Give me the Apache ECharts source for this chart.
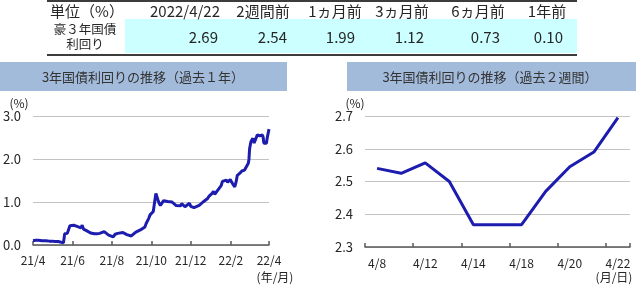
<!DOCTYPE html>
<html><head><meta charset="utf-8">
<script src="https://cdn.jsdelivr.net/npm/echarts@6/dist/echarts.min.js"></script>
<style>html,body{margin:0;padding:0;background:#fff}#c{width:640px;height:288px}</style>
</head><body><div id="c"></div>
<script>
// ---- table data ----
const tableHeaders = ['単位（%）','2022/4/22','2週間前','1ヵ月前','3ヵ月前','6ヵ月前','1年前'];
const tableRowLabel = ['豪３年国債','利回り'];
const tableValues = [2.69, 2.54, 1.99, 1.12, 0.73, 0.10];

// ---- past 1 year ----
const yearDates = ['2021-04-22','2021-04-26','2021-04-30','2021-05-06','2021-05-12','2021-05-17','2021-05-21','2021-05-26','2021-05-31','2021-06-03','2021-06-08','2021-06-10','2021-06-14','2021-06-16','2021-06-18','2021-06-21','2021-06-24','2021-06-28','2021-07-01','2021-07-05','2021-07-07','2021-07-09','2021-07-13','2021-07-16','2021-07-20','2021-07-26','2021-07-30','2021-08-03','2021-08-06','2021-08-10','2021-08-13','2021-08-17','2021-08-20','2021-08-24','2021-08-27','2021-08-31','2021-09-03','2021-09-08','2021-09-10','2021-09-14','2021-09-17','2021-09-21','2021-09-24','2021-09-28','2021-10-01','2021-10-05','2021-10-08','2021-10-12','2021-10-14','2021-10-18','2021-10-20','2021-10-22','2021-10-25','2021-10-27','2021-10-29','2021-11-01','2021-11-03','2021-11-05','2021-11-08','2021-11-10','2021-11-12','2021-11-16','2021-11-19','2021-11-23','2021-11-26','2021-11-29','2021-12-02','2021-12-06','2021-12-08','2021-12-13','2021-12-16','2021-12-20','2021-12-22','2021-12-27','2021-12-30','2022-01-04','2022-01-06','2022-01-10','2022-01-13','2022-01-17','2022-01-19','2022-01-21','2022-01-24','2022-01-26','2022-01-28','2022-01-31','2022-02-03','2022-02-07','2022-02-09','2022-02-11','2022-02-15','2022-02-17','2022-02-21','2022-02-23','2022-02-25','2022-02-28','2022-03-02','2022-03-04','2022-03-08','2022-03-11','2022-03-15','2022-03-17','2022-03-21','2022-03-22','2022-03-23','2022-03-25','2022-03-28','2022-03-30','2022-04-01','2022-04-04','2022-04-06','2022-04-07','2022-04-08','2022-04-11','2022-04-12','2022-04-13','2022-04-14','2022-04-15','2022-04-18','2022-04-19','2022-04-20','2022-04-21','2022-04-22'];
const yearValues = [0.10,0.11,0.11,0.10,0.10,0.09,0.09,0.08,0.08,0.06,0.05,0.26,0.27,0.26,0.45,0.48,0.46,0.44,0.42,0.40,0.46,0.37,0.34,0.31,0.28,0.26,0.26,0.27,0.31,0.31,0.28,0.23,0.19,0.19,0.25,0.27,0.26,0.29,0.28,0.24,0.26,0.21,0.24,0.30,0.33,0.35,0.35,0.42,0.50,0.62,0.70,0.73,0.78,0.80,1.20,1.06,0.97,0.92,0.88,1.03,1.00,1.01,0.97,1.00,1.01,0.92,0.93,0.91,0.96,0.89,0.93,0.97,0.90,0.87,0.84,0.92,0.96,1.00,0.99,1.08,1.13,1.12,1.20,1.25,1.18,1.17,1.30,1.38,1.48,1.47,1.51,1.46,1.52,1.55,1.42,1.35,1.46,1.62,1.67,1.72,1.74,1.78,1.90,1.99,2.24,2.40,2.48,2.37,2.45,2.56,2.55,2.57,2.54,2.525,2.557,2.50,2.368,2.368,2.368,2.47,2.545,2.59,2.695];
const yearTickDates = ['2021-04-22','2021-06-22','2021-08-22','2021-10-22','2021-12-22','2022-02-22','2022-04-22'];
const yearTickLabels = ['21/4','21/6','21/8','21/10','21/12','22/2','22/4'];

// ---- past 2 weeks ----
const weekDates = ['4/8','4/11','4/12','4/13','4/14','4/15','4/18','4/19','4/20','4/21','4/22'];
const weekValues = [2.54, 2.525, 2.557, 2.50, 2.368, 2.368, 2.368, 2.47, 2.545, 2.59, 2.695];

function ts(s){ const p = s.split('-').map(Number); return Date.UTC(p[0], p[1]-1, p[2]); }
const yearTickTs = yearTickDates.map(ts);
const yearData = yearDates.map((d,i)=>[ts(d), yearValues[i]]);

const FONT = '"Noto Sans CJK JP", "Noto Sans", sans-serif';
const TXT = '#262626';
const LINE = '#1c1cae';

const graphics = [];
// table
graphics.push({type:'rect', shape:{x:125,y:19,width:452,height:34}, style:{fill:'#ccffff'}});
graphics.push({type:'line', shape:{x1:47,y1:1,x2:577,y2:1}, style:{stroke:'#3c3c3c',lineWidth:2}});
graphics.push({type:'line', shape:{x1:47,y1:55,x2:577,y2:55}, style:{stroke:'#3c3c3c',lineWidth:2}});
const headerX = [87,185,263,335,402,478,547];
tableHeaders.forEach((h,i)=>graphics.push({type:'text', x:headerX[i], y:11, style:{text:h, font:'15px '+FONT, fill:TXT, textAlign:'center', textVerticalAlign:'middle'}}));
graphics.push({type:'text', x:85, y:29, style:{text:tableRowLabel[0], font:'12.5px '+FONT, fill:TXT, textAlign:'center', textVerticalAlign:'middle'}});
graphics.push({type:'text', x:85, y:44, style:{text:tableRowLabel[1], font:'12.5px '+FONT, fill:TXT, textAlign:'center', textVerticalAlign:'middle'}});
const valRight = [218,287,355,424,500,563];
tableValues.forEach((v,i)=>graphics.push({type:'text', x:valRight[i], y:37, style:{text:v.toFixed(2), font:'15px '+FONT, fill:TXT, textAlign:'right', textVerticalAlign:'middle'}}));
// title bars
graphics.push({type:'rect', shape:{x:0,y:62,width:287,height:29}, style:{fill:'#a3bbdb'}});
graphics.push({type:'text', x:143, y:77, style:{text:'3年国債利回りの推移（過去１年）', font:'13px '+FONT, fill:'#333', textAlign:'center', textVerticalAlign:'middle'}});
graphics.push({type:'rect', shape:{x:347,y:62,width:289,height:29}, style:{fill:'#a3bbdb'}});
graphics.push({type:'text', x:490, y:77, style:{text:'3年国債利回りの推移（過去２週間）', font:'13px '+FONT, fill:'#333', textAlign:'center', textVerticalAlign:'middle'}});
// unit labels
graphics.push({type:'text', x:19, y:103, style:{text:'(%)', font:'12px '+FONT, fill:TXT, textAlign:'center', textVerticalAlign:'middle'}});
graphics.push({type:'text', x:355, y:103, style:{text:'(%)', font:'12px '+FONT, fill:TXT, textAlign:'center', textVerticalAlign:'middle'}});
graphics.push({type:'text', x:275, y:277, style:{text:'(年/月)', font:'12px '+FONT, fill:TXT, textAlign:'center', textVerticalAlign:'middle'}});
graphics.push({type:'text', x:614, y:277, style:{text:'(月/日)', font:'12px '+FONT, fill:TXT, textAlign:'center', textVerticalAlign:'middle'}});

const chart = echarts.init(document.getElementById('c'), null, {renderer:'canvas'});
chart.setOption({
  animation:false,
  backgroundColor:'#fff',
  textStyle:{fontFamily:FONT},
  grid:[
    {left:32, right:371, top:116, bottom:43},
    {left:365, right:10, top:116, bottom:41}
  ],
  xAxis:[
    {type:'value', gridIndex:0, min:yearTickTs[0], max:yearTickTs[yearTickTs.length-1],
     axisLine:{lineStyle:{color:'#595959', width:1.5}},
     axisTick:{show:true, inside:true, length:4, customValues:yearTickTs, lineStyle:{color:'#595959', width:1.5}},
     axisLabel:{customValues:yearTickTs, color:TXT, fontSize:12, margin:9, hideOverlap:false,
       formatter:(v)=>{ const i = yearTickTs.indexOf(v); return i>=0 ? yearTickLabels[i] : ''; }},
     splitLine:{show:false}},
    {type:'category', gridIndex:1, data:weekDates, boundaryGap:true,
     axisLine:{lineStyle:{color:'#595959', width:1.5}},
     axisTick:{show:true, inside:true, length:4, interval:1, lineStyle:{color:'#595959', width:1.5}},
     axisLabel:{interval:1, color:TXT, fontSize:12, margin:10},
     splitLine:{show:false}}
  ],
  yAxis:[
    {type:'value', gridIndex:0, min:0, max:3, interval:1,
     axisLine:{show:false}, axisTick:{show:false},
     axisLabel:{color:TXT, fontSize:13, margin:12, formatter:(v)=>v.toFixed(1)},
     splitLine:{lineStyle:{color:'#c3c3c3', width:1.2}}},
    {type:'value', gridIndex:1, min:2.3, max:2.7, interval:0.1,
     axisLine:{show:false}, axisTick:{show:false},
     axisLabel:{color:TXT, fontSize:13, margin:12, formatter:(v)=>v.toFixed(1)},
     splitLine:{lineStyle:{color:'#c3c3c3', width:1.2}}}
  ],
  series:[
    {type:'line', xAxisIndex:0, yAxisIndex:0, data:yearData, showSymbol:false,
     lineStyle:{color:LINE, width:3}, z:3},
    {type:'line', xAxisIndex:1, yAxisIndex:1, data:weekValues, showSymbol:false,
     lineStyle:{color:LINE, width:3}, z:3}
  ],
  graphic:graphics
});
</script></body></html>
